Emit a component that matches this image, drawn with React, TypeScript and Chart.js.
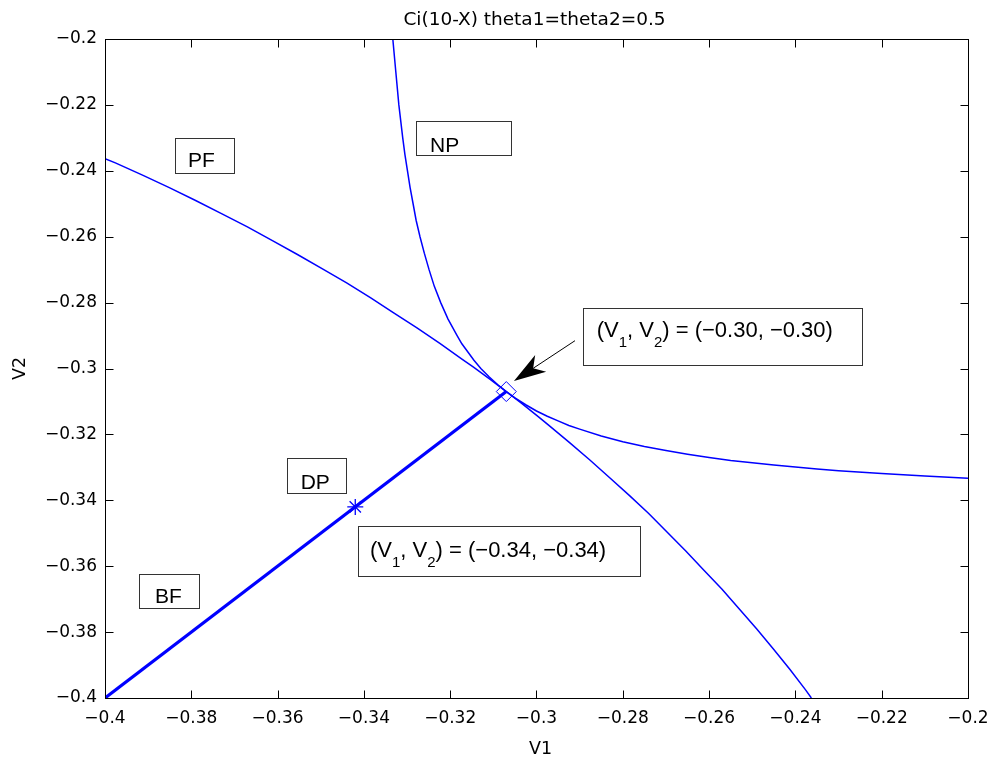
import React, { useEffect, useRef } from "react";
import { Chart, registerables } from "chart.js";
Chart.register(...registerables);

const TITLE = "Ci(10-X) theta1=theta2=0.5";
const X_LABEL = "V1";
const Y_LABEL = "V2";
const AXIS_MIN = -0.4;
const AXIS_MAX = -0.2;
const AXIS_STEP = 0.02;

// NP curve
const npV1 = [-0.3333, -0.3326, -0.3319, -0.331, -0.3305, -0.3299, -0.3293, -0.3286, -0.3279, -0.327, -0.326, -0.3249, -0.3237, -0.3222, -0.3205, -0.3184, -0.3173, -0.3159, -0.3145, -0.3129, -0.311, -0.3089, -0.307,
  -0.305, -0.3025, -0.3, -0.2975, -0.295, -0.2925, -0.29, -0.285, -0.28, -0.275, -0.27, -0.265, -0.26, -0.255, -0.25, -0.245, -0.24, -0.235, -0.23, -0.22, -0.21, -0.2];
const npV2 = [-0.2, -0.21, -0.22, -0.23, -0.235, -0.24, -0.245, -0.25, -0.255, -0.26, -0.265, -0.27, -0.275, -0.28, -0.285, -0.29, -0.2925, -0.295, -0.2975, -0.3, -0.3025, -0.305, -0.307,
  -0.3089, -0.311, -0.3129, -0.3145, -0.3159, -0.3173, -0.3184, -0.3205, -0.3222, -0.3237, -0.3249, -0.326, -0.327, -0.3279, -0.3286, -0.3293, -0.3299, -0.3305, -0.331, -0.3319, -0.3326, -0.3333];

// PF curve
const pfV1 = [-0.4, -0.3976, -0.3913, -0.3851, -0.379, -0.373, -0.367, -0.3612, -0.3554, -0.3497, -0.344, -0.3385, -0.3331, -0.3277, -0.3224, -0.3172, -0.3146, -0.3105, -0.307,
  -0.3035, -0.2996, -0.2972, -0.2924, -0.2877, -0.2831, -0.2785, -0.274, -0.2697, -0.2654, -0.2612, -0.257, -0.253, -0.249, -0.2451, -0.2413, -0.2376, -0.2363];
const pfV2 = [-0.2363, -0.2376, -0.2413, -0.2451, -0.249, -0.253, -0.257, -0.2612, -0.2654, -0.2697, -0.274, -0.2785, -0.2831, -0.2877, -0.2924, -0.2972, -0.2996, -0.3035, -0.307,
  -0.3105, -0.3146, -0.3172, -0.3224, -0.3277, -0.3331, -0.3385, -0.344, -0.3497, -0.3554, -0.3612, -0.367, -0.373, -0.379, -0.3851, -0.3913, -0.3976, -0.4];

// DP diagonal
const dpV1 = [-0.4, -0.307];
const dpV2 = [-0.4, -0.307];

// markers
const starV1 = [-0.342];
const starV2 = [-0.342];
const diamondV1 = [-0.307];
const diamondV2 = [-0.307];

// region label boxes (data units)
const boxText = ["PF", "NP", "DP", "BF"];
const boxX1 = [-0.38377, -0.328, -0.35789, -0.39205];
const boxX2 = [-0.3701, -0.30591, -0.34415, -0.37829];
const boxY1 = [-0.22995, -0.2248, -0.32726, -0.36237];
const boxY2 = [-0.24058, -0.2352, -0.3377, -0.37278];
const boxTextX = [-0.38077, -0.32468, -0.35465, -0.38841];
const boxTextY = [-0.23876, -0.2342, -0.33666, -0.37126];

// coordinate annotations: [text, isSubscript]
const annParts: [string, boolean][][] = [
  [["(V", false], ["1", true], [", V", false], ["2", true], [") = (\u22120.30, \u22120.30)", false]],
  [["(V", false], ["1", true], [", V", false], ["2", true], [") = (\u22120.34, \u22120.34)", false]],
];
const annX1 = [-0.28929, -0.3413];
const annX2 = [-0.22456, -0.27601];
const annY1 = [-0.28173, -0.3478];
const annY2 = [-0.29894, -0.36297];
const annTextX = [-0.28605, -0.33859];
const annTextY = [-0.29053, -0.35712];

// arrow (data units)
const arrowTail = [-0.29108, -0.29156];
const arrowTip = [-0.30522, -0.30379];

const BLUE = "#0000ff";
const pts = (xs: number[], ys: number[]) => xs.map((x, i) => ({ x, y: ys[i] }));
const fmt = (v: number) => String(Math.round(v * 100) / 100).replace("-", "\u2212");

const decorPlugin = {
  id: "decor",
  afterDraw(chart: any) {
    const { ctx, chartArea: a, scales } = chart;
    const xs = scales.x, ys = scales.y;
    const px = (v: number) => xs.getPixelForValue(v);
    const py = (v: number) => ys.getPixelForValue(v);
    ctx.save();
    ctx.strokeStyle = "#000";
    ctx.lineWidth = 1;
    const L = Math.round(a.left) + 0.5, R = Math.round(a.right) + 0.5;
    const T = Math.round(a.top) + 0.5, B = Math.round(a.bottom) + 0.5;
    ctx.strokeRect(L, T, R - L, B - T);
    const tl = 8;
    ctx.beginPath();
    for (let i = 0; i <= 10; i++) {
      const v = AXIS_MIN + i * AXIS_STEP;
      const x = Math.round(px(v)) + 0.5;
      ctx.moveTo(x, B); ctx.lineTo(x, B - tl);
      ctx.moveTo(x, T); ctx.lineTo(x, T + tl);
      const y = Math.round(py(v)) + 0.5;
      ctx.moveTo(L, y); ctx.lineTo(L + tl, y);
      ctx.moveTo(R, y); ctx.lineTo(R - tl, y);
    }
    ctx.stroke();

    ctx.fillStyle = "#000";
    ctx.textAlign = "center";
    ctx.textBaseline = "alphabetic";
    ctx.font = "18.5px 'DejaVu Sans'";
    ctx.fillText(TITLE, (a.left + a.right) / 2 - 2, 25);
    ctx.font = "17.5px 'DejaVu Sans'";
    ctx.fillText(X_LABEL, (a.left + a.right) / 2 + 4, 754);
    ctx.save();
    ctx.translate(25, (a.top + a.bottom) / 2);
    ctx.rotate(-Math.PI / 2);
    ctx.fillText(Y_LABEL, 0, 0);
    ctx.restore();

    ctx.textAlign = "left";
    ctx.strokeStyle = "#333";
    for (let i = 0; i < boxText.length; i++) {
      const x1 = Math.round(px(boxX1[i])) + 0.5, x2 = Math.round(px(boxX2[i])) + 0.5;
      const y1 = Math.round(py(boxY1[i])) + 0.5, y2 = Math.round(py(boxY2[i])) + 0.5;
      ctx.strokeRect(x1, y1, x2 - x1, y2 - y1);
      ctx.font = "21px 'Liberation Sans', Arial";
      ctx.fillText(boxText[i], px(boxTextX[i]), py(boxTextY[i]));
    }
    for (let i = 0; i < annParts.length; i++) {
      const x1 = Math.round(px(annX1[i])) + 0.5, x2 = Math.round(px(annX2[i])) + 0.5;
      const y1 = Math.round(py(annY1[i])) + 0.5, y2 = Math.round(py(annY2[i])) + 0.5;
      ctx.strokeRect(x1, y1, x2 - x1, y2 - y1);
      let cx = px(annTextX[i]);
      const by = py(annTextY[i]);
      for (const [t, sub] of annParts[i]) {
        ctx.font = sub ? "15px 'Liberation Sans', Arial" : "22px 'Liberation Sans', Arial";
        ctx.fillText(t, cx, sub ? by + 10 : by);
        cx += ctx.measureText(t).width;
      }
    }
    const sx = px(arrowTail[0]), sy = py(arrowTail[1]);
    const tx = px(arrowTip[0]), ty = py(arrowTip[1]);
    const ang = Math.atan2(ty - sy, tx - sx);
    const dx = Math.cos(ang), dy = Math.sin(ang);
    const HL = 32, HW = 10, HN = 23;
    ctx.strokeStyle = "#000";
    ctx.lineWidth = 1;
    ctx.beginPath();
    ctx.moveTo(sx, sy);
    ctx.lineTo(tx - dx * HN, ty - dy * HN);
    ctx.stroke();
    ctx.fillStyle = "#000";
    ctx.beginPath();
    ctx.moveTo(tx, ty);
    ctx.lineTo(tx - dx * HL - dy * HW, ty - dy * HL + dx * HW);
    ctx.lineTo(tx - dx * HN, ty - dy * HN);
    ctx.lineTo(tx - dx * HL + dy * HW, ty - dy * HL - dx * HW);
    ctx.closePath();
    ctx.fill();
    ctx.restore();
  },
};

export default function App() {
  const ref = useRef<HTMLCanvasElement>(null);
  useEffect(() => {
    if (!ref.current) return;
    const tickFont = { family: "'DejaVu Sans'", size: 17 };
    const chart = new Chart(ref.current, {
      type: "scatter",
      data: {
        datasets: [
          { label: "NP", data: pts(npV1, npV2), showLine: true, borderColor: BLUE, borderWidth: 1.5, pointRadius: 0, tension: 0 },
          { label: "PF", data: pts(pfV1, pfV2), showLine: true, borderColor: BLUE, borderWidth: 1.5, pointRadius: 0, tension: 0 },
          { label: "DP", data: pts(dpV1, dpV2), showLine: true, borderColor: BLUE, borderWidth: 3.2, pointRadius: 0 },
          { label: "star", data: pts(starV1, starV2), showLine: false, pointStyle: "star", pointRadius: 8, borderColor: BLUE, backgroundColor: BLUE, pointBorderWidth: 1.3 },
          { label: "diamond", data: pts(diamondV1, diamondV2), showLine: false, pointStyle: "rectRot", pointRadius: 10, borderColor: BLUE, backgroundColor: "rgba(0,0,0,0)", pointBorderWidth: 1 },
        ],
      },
      options: {
        animation: false,
        responsive: true,
        maintainAspectRatio: false,
        layout: { padding: { top: 39, right: 19, left: 0, bottom: 0 } },
        plugins: { legend: { display: false }, tooltip: { enabled: false }, title: { display: false } },
        scales: {
          x: {
            type: "linear", min: AXIS_MIN, max: AXIS_MAX,
            grid: { display: false }, border: { display: false },
            ticks: { stepSize: AXIS_STEP, autoSkip: false, maxRotation: 0, color: "#000", font: tickFont, padding: 2, callback: (v: any) => fmt(Number(v)) },
            afterFit: (s: any) => { s.height = 67; s.paddingLeft = 0; s.paddingRight = 0; },
          },
          y: {
            type: "linear", min: AXIS_MIN, max: AXIS_MAX,
            grid: { display: false }, border: { display: false },
            ticks: { stepSize: AXIS_STEP, autoSkip: false, color: "#000", font: tickFont, padding: 0, callback: (v: any) => fmt(Number(v)) },
            afterFit: (s: any) => { s.width = 105; s.paddingTop = 0; s.paddingBottom = 0; },
          },
        },
      },
      plugins: [decorPlugin],
    } as any);
    return () => chart.destroy();
  }, []);
  return (
    <div style={{ position: "absolute", left: 0, top: 0, width: 987, height: 765, background: "#fff" }}>
      <canvas ref={ref} />
    </div>
  );
}
